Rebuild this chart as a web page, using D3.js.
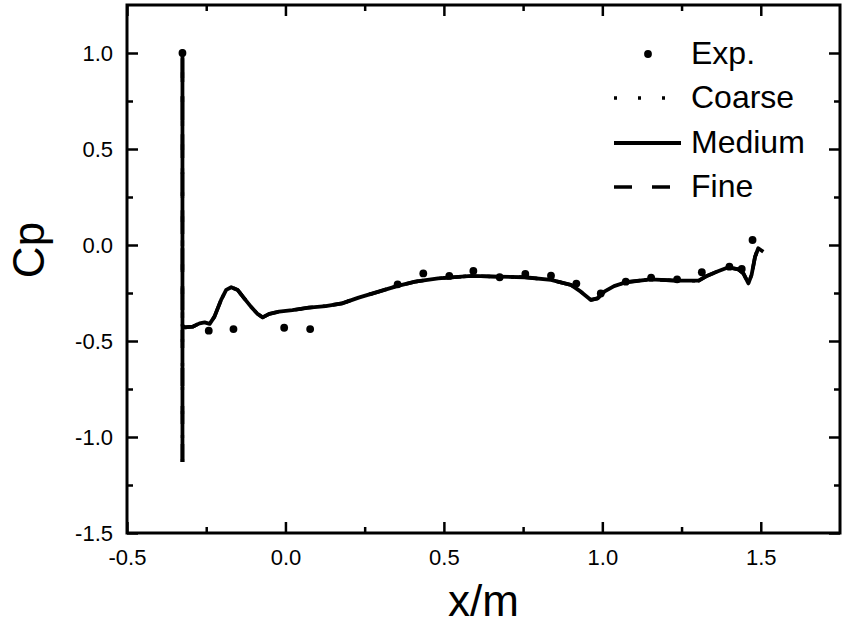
<!DOCTYPE html>
<html>
<head>
<meta charset="utf-8">
<script src="https://cdn.jsdelivr.net/npm/d3@7"></script>
<style>
  body { margin: 0; background: #fff; }
  svg text { font-family: "Liberation Sans", Arial, sans-serif; fill: #000; }
</style>
</head>
<body>
<div id="chart"></div>
<script>
// experimental points (x in m, Cp)
var expX  = [-0.325, -0.242, -0.164, -0.004, 0.078, 0.354, 0.435, 0.517, 0.593, 0.676,
             0.757, 0.838, 0.918, 0.995, 1.074, 1.154, 1.236, 1.314, 1.401, 1.44, 1.474];
var expCp = [1.0, -0.446, -0.438, -0.431, -0.438, -0.205, -0.148, -0.161, -0.135, -0.168,
             -0.151, -0.160, -0.201, -0.252, -0.191, -0.170, -0.179, -0.142, -0.113, -0.125, 0.026];

// simulated Cp (coarse / medium / fine lie on top of each other at this scale)
var simX  = [-0.325, -0.325, -0.325, -0.318, -0.292, -0.271, -0.255, -0.239, -0.224, -0.203,
             -0.187, -0.171, -0.151, -0.130, -0.109, -0.088, -0.072, -0.051, -0.020, 0.022,
             0.074, 0.127, 0.179, 0.231, 0.294, 0.352, 0.409, 0.482, 0.587, 0.671,
             0.755, 0.838, 0.901, 0.932, 0.964, 0.985, 1.006, 1.037, 1.074, 1.152,
             1.236, 1.304, 1.330, 1.361, 1.398, 1.429, 1.445, 1.461, 1.471, 1.482,
             1.492, 1.508];
var simCp = [-1.13, 1.01, -0.42, -0.429, -0.425, -0.408, -0.403, -0.411, -0.373, -0.286,
             -0.234, -0.220, -0.234, -0.278, -0.321, -0.359, -0.377, -0.359, -0.347, -0.339,
             -0.326, -0.318, -0.304, -0.274, -0.243, -0.214, -0.191, -0.174, -0.161, -0.165,
             -0.168, -0.182, -0.208, -0.243, -0.286, -0.278, -0.243, -0.214, -0.194, -0.179,
             -0.186, -0.186, -0.161, -0.139, -0.116, -0.127, -0.148, -0.200, -0.156, -0.061,
             -0.017, -0.035];

var xMajor = [-0.5, 0.0, 0.5, 1.0, 1.5];
var xMinor = [-0.25, 0.25, 0.75, 1.25];
var yMajor = [-1.5, -1.0, -0.5, 0.0, 0.5, 1.0];
var yMinor = [-1.25, -0.75, -0.25, 0.25, 0.75];

var legendNames = ["Exp.", "Coarse", "Medium", "Fine"];

var W = 847, H = 627;
var margin = {top: 5, right: 7, bottom: 94, left: 127};
var width = W - margin.left - margin.right,
    height = H - margin.top - margin.bottom;

var svg = d3.select("#chart").append("svg")
  .attr("width", W)
  .attr("height", H);

var g = svg.append("g")
  .attr("transform", "translate(" + margin.left + "," + margin.top + ")");

var x = d3.scaleLinear().domain([-0.5, 1.75]).range([0, width]);
var y = d3.scaleLinear().domain([-1.5, 1.25]).range([height, 0]);

// plain hyphen for negatives, like the original
var fmt = function(d) { return d3.format(".1f")(d).replace("\u2212", "-"); };

function styleAxis(sel) {
  sel.select(".domain").remove();
  sel.selectAll(".tick line").attr("stroke", "#000").attr("stroke-width", 2.5);
  sel.selectAll(".tick text").style("font-size", "22px");
}

// major + minor ticks on all four sides, pointing inward
g.append("g").attr("transform", "translate(0," + height + ")")
  .call(d3.axisBottom(x).tickValues(xMajor).tickSize(-11).tickPadding(16).tickFormat(fmt))
  .call(styleAxis);
g.append("g").attr("transform", "translate(0," + height + ")")
  .call(d3.axisBottom(x).tickValues(xMinor).tickSize(-6).tickFormat(""))
  .call(styleAxis);
g.append("g")
  .call(d3.axisTop(x).tickValues(xMajor).tickSize(-11).tickFormat(""))
  .call(styleAxis);
g.append("g")
  .call(d3.axisTop(x).tickValues(xMinor).tickSize(-6).tickFormat(""))
  .call(styleAxis);

g.append("g")
  .call(d3.axisLeft(y).tickValues(yMajor).tickSize(-11).tickPadding(14).tickFormat(fmt))
  .call(styleAxis);
g.append("g")
  .call(d3.axisLeft(y).tickValues(yMinor).tickSize(-6).tickFormat(""))
  .call(styleAxis);
g.append("g").attr("transform", "translate(" + width + ",0)")
  .call(d3.axisRight(y).tickValues(yMajor).tickSize(-11).tickFormat(""))
  .call(styleAxis);
g.append("g").attr("transform", "translate(" + width + ",0)")
  .call(d3.axisRight(y).tickValues(yMinor).tickSize(-6).tickFormat(""))
  .call(styleAxis);

// frame
g.append("rect")
  .attr("width", width)
  .attr("height", height)
  .attr("fill", "none")
  .attr("stroke", "#000")
  .attr("stroke-width", 3);

// curves
var sim = simX.map(function(d, i) { return [d, simCp[i]]; });
var line = d3.line()
  .x(function(d) { return x(d[0]); })
  .y(function(d) { return y(d[1]); });

var series = [
  {name: "Coarse", dash: "3,21", w: 3.4},
  {name: "Fine",   dash: "18,20", w: 3.6},
  {name: "Medium", dash: null, w: 3.8}
];

series.forEach(function(s) {
  g.append("path")
    .datum(sim)
    .attr("d", line)
    .attr("fill", "none")
    .attr("stroke", "#000")
    .attr("stroke-width", s.w)
    .attr("stroke-linejoin", "round")
    .attr("stroke-dasharray", s.dash);
});

// experiment dots
g.selectAll("circle.exp")
  .data(expX)
  .enter().append("circle")
  .attr("class", "exp")
  .attr("cx", function(d) { return x(d); })
  .attr("cy", function(d, i) { return y(expCp[i]); })
  .attr("r", 3.9)
  .attr("fill", "#000");

// axis titles
svg.append("text")
  .attr("x", margin.left + width / 2)
  .attr("y", 616)
  .attr("text-anchor", "middle")
  .style("font-size", "44px")
  .text("x/m");

svg.append("text")
  .attr("transform", "translate(44," + 250 + ") rotate(-90)")
  .attr("text-anchor", "middle")
  .style("font-size", "44px")
  .text("Cp");

// legend
var legend = svg.append("g");
var rowY = [54, 98, 143, 187];
legendNames.forEach(function(name, i) {
  var ly = rowY[i];
  if (name === "Exp.") {
    legend.append("circle").attr("cx", 648).attr("cy", ly).attr("r", 3.9).attr("fill", "#000");
  } else {
    var s = series.filter(function(d) { return d.name === name; })[0];
    legend.append("line")
      .attr("x1", 614).attr("x2", name === "Coarse" ? 666 : 681)
      .attr("y1", ly).attr("y2", ly)
      .attr("stroke", "#000")
      .attr("stroke-width", name === "Medium" ? 4 : 3.4)
      .attr("stroke-dasharray", s.dash);
  }
  legend.append("text")
    .attr("x", 691)
    .attr("y", ly + 10)
    .style("font-size", "32px")
    .text(name);
});
</script>
</body>
</html>
